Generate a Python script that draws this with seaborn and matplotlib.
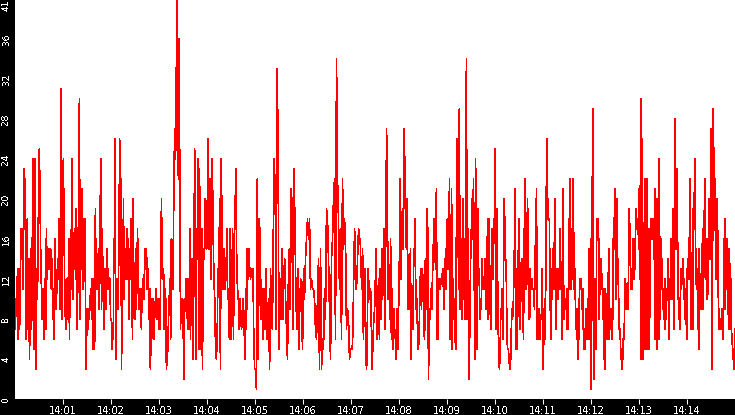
import pandas as pd
import matplotlib
matplotlib.use("Agg")
import matplotlib.pyplot as plt
import matplotlib.dates as mdates
import seaborn as sns

start = pd.Timestamp("2024-01-01 14:00:00")

# readings per minute, 14:00 .. 14:14
m00 = [7, 10, 9, 13, 6, 13, 7, 12, 17, 14, 17, 11, 23, 17, 22, 6, 14, 18, 7, 14, 4, 9, 15, 7, 16, 24, 5, 15, 24, 3,
       13, 10, 13, 22, 25, 20, 14, 11, 8, 11, 8, 6, 12, 7, 17, 12, 15, 13, 15, 13, 15, 11, 14, 8, 11, 6, 16, 13, 9, 12,
       14, 12, 18, 9, 20, 31, 8, 20]
m01 = [24, 16, 10, 7, 12, 10, 8, 16, 6, 15, 11, 24, 18, 10, 16, 17, 12, 19, 7, 12, 20, 30, 8, 21, 13, 21, 11, 14, 18, 10,
       3, 9, 7, 9, 8, 10, 11, 8, 12, 5, 12, 5, 19, 11, 14, 11, 15, 9, 16, 24, 9, 17, 12, 7, 11, 13, 9, 15, 11, 13,
       11, 12, 8]
m02 = [8, 5, 7, 6, 16, 15, 26, 4, 10, 12, 9, 11, 16, 26, 20, 22, 3, 13, 10, 20, 10, 13, 15, 12, 17, 12, 16, 13, 8, 15,
       12, 18, 14, 6, 20, 13, 8, 8, 15, 9, 13, 17, 11, 9, 11, 11, 9, 7, 11, 10, 12, 10, 14, 15, 13, 15, 11, 13, 12, 8,
       11, 3, 6, 6, 10, 7, 10, 6, 9, 10, 11, 8, 9, 10, 7]
m03 = [10, 7, 13, 20, 13, 12, 13, 7, 11, 10, 3, 4, 5, 8, 10, 12, 6, 16, 13, 11, 17, 24, 27, 24, 32, 41, 26, 22, 36, 22,
       7, 10, 8, 10, 6, 2, 10, 10, 12, 10, 7, 12, 7, 17, 6, 10, 14, 12, 4, 15, 25, 13, 4, 17, 14, 24, 5, 23, 5, 14,
       17, 3, 11, 15, 14, 20, 16, 15]
m04 = [20, 26, 15, 22, 12, 17, 24, 17, 12, 10, 5, 4, 6, 13, 11, 20, 3, 24, 17, 11, 15, 13, 11, 13, 17, 10, 11, 6, 17, 6,
       11, 17, 6, 15, 19, 23, 14, 11, 10, 7, 10, 8, 7, 9, 10, 8, 4, 11, 7, 15, 12, 15, 13, 12, 13, 13, 13, 6, 3]
m05 = [3, 1, 22, 4, 18, 16, 8, 11, 6, 11, 7, 13, 6, 9, 10, 3, 13, 8, 7, 17, 24, 20, 7, 33, 26, 5, 12, 8, 15, 8,
       12, 14, 10, 7, 4, 12, 15, 9, 21, 19, 7, 23, 17, 10, 7, 13, 5, 9, 12, 9, 5]
m06 = [13, 10, 14, 16, 18, 16, 18, 11, 12, 11, 11, 10, 7, 6, 10, 14, 3, 15, 3, 6, 5, 11, 8, 19, 18, 14, 9, 4, 14, 16,
       20, 22, 6, 34, 22, 18, 11, 17, 6, 22, 15, 18, 16, 7, 9, 8, 4, 5]
m07 = [5, 5, 7, 13, 17, 14, 11, 12, 15, 17, 16, 16, 13, 11, 15, 6, 10, 13, 4, 3, 8, 13, 11, 10, 11, 7, 3, 6, 8, 9,
       12, 15, 6, 10, 12, 6, 13, 8, 15, 10, 15, 17, 7, 17, 27, 19, 10, 12, 8, 16, 6, 11, 5, 9, 7, 6, 4, 9, 5, 9]
m08 = [14, 22, 12, 18, 19, 15, 27, 23, 16, 15, 20, 9, 12, 9, 15, 4, 9, 7, 13, 15, 18, 9, 10, 7, 5, 6, 11, 13, 9, 13,
       12, 7, 6, 14, 9, 19, 17, 2, 9, 8, 11, 9, 12, 15, 18, 15, 13, 21, 6, 6, 12, 12, 11, 12, 12, 13, 11, 9, 14, 11, 17]
m09 = [18, 13, 15, 22, 6, 14, 21, 5, 12, 8, 10, 6, 5, 20, 26, 19, 11, 29, 9, 12, 16, 8, 20, 10, 16, 8, 21, 34, 8, 17,
       6, 2, 9, 14, 17, 20, 16, 22, 13, 4, 24, 15, 5, 19, 12, 13, 8, 10, 9, 14, 11, 12, 11, 14, 12, 9, 13, 18, 8, 18,
       13, 8, 7, 17, 15, 12, 18, 18]
m10 = [25, 7, 19, 14, 8, 4, 3, 5, 9, 8, 11, 6, 13, 20, 17, 14, 12, 6, 5, 5, 4, 3, 3, 6, 9, 8, 9, 12, 16, 21,
       5, 13, 5, 11, 18, 9, 7, 10, 14, 14, 10, 6, 15, 22, 16, 11, 16, 20, 12, 8, 8, 13, 11, 12, 11, 11, 11, 9, 15, 16,
       21, 6, 6, 9, 9, 6, 8, 8, 13, 5]
m11 = [3, 8, 10, 6, 16, 26, 22, 18, 18, 18, 12, 6, 8, 12, 14, 15, 11, 20, 18, 7, 12, 13, 10, 11, 13, 17, 11, 13, 6, 21,
       14, 8, 9, 10, 9, 11, 7, 7, 11, 18, 22, 11, 17, 12, 18, 22, 11, 13, 10, 7, 9, 6, 4, 6, 10, 12, 11, 12, 9, 11,
       7, 5, 5, 7, 9, 8, 6, 10, 6, 15, 8, 16]
m12 = [1, 15, 29, 16, 2, 8, 12, 5, 16, 18, 18, 16, 8, 13, 11, 14, 11, 11, 8, 5, 3, 11, 10, 9, 6, 10, 15, 6, 9, 7,
       9, 6, 8, 16, 15, 21, 15, 10, 20, 15, 13, 10, 7, 7, 5, 4, 3, 4, 6, 6, 9, 12, 11, 9, 9, 9, 14, 19, 16, 11,
       13, 11, 13, 16, 12, 13, 16, 19, 18, 17, 18, 15]
m13 = [21, 12, 30, 4, 26, 4, 15, 13, 22, 5, 13, 22, 5, 13, 17, 5, 11, 18, 16, 17, 16, 18, 14, 21, 6, 12, 5, 20, 12, 6,
       24, 8, 16, 11, 14, 11, 9, 9, 7, 12, 8, 11, 10, 14, 6, 12, 10, 13, 16, 10, 13, 19, 7, 28, 18, 15, 23, 19, 12, 8,
       10, 7, 13, 11, 12, 13, 14, 10, 11, 8, 9, 6]
m14 = [13, 14, 12, 16, 22, 15, 7, 11, 7, 19, 17, 24, 18, 12, 11, 13, 9, 5, 15, 10, 9, 11, 14, 17, 9, 16, 22, 16, 12, 16,
       10, 11, 16, 20, 14, 18, 27, 3, 16, 29, 21, 22, 17, 12, 17, 20, 13, 7, 9, 7, 8, 7, 9, 6, 8, 14, 18, 9, 13, 16,
       11, 10, 7, 15, 12, 12, 7, 6, 5, 4, 3, 7]

minutes = [m00, m01, m02, m03, m04, m05, m06, m07, m08, m09, m10, m11, m12, m13, m14]
y_ticks = [0, 4, 8, 12, 16, 20, 24, 28, 32, 36]

# spread each minute's readings evenly over that minute
rows = []
for k, vals in enumerate(minutes):
    n = len(vals)
    for i, v in enumerate(vals):
        t = start + pd.Timedelta(minutes=k) + pd.Timedelta(seconds=60 * (i + 0.5) / n)
        rows.append((t, v))
df = pd.DataFrame(rows, columns=["time", "value"])

sns.set_theme(style="white")
plt.rcParams["text.antialiased"] = False

fig = plt.figure(figsize=(7.35, 4.15), dpi=100, facecolor="black")
ax = fig.add_axes([15 / 735, 16 / 415, 720 / 735, 399 / 415])
ax.set_facecolor("white")

sns.lineplot(data=df, x="time", y="value", color="red", linewidth=0.5,
             antialiased=False, estimator=None, ax=ax)

ax.set_xlim(start, start + pd.Timedelta(minutes=15))
ax.set_ylim(0, 39.9)
for s in ax.spines.values():
    s.set_visible(False)
ax.set_xlabel("")
ax.set_ylabel("")

ax.set_xticks([start + pd.Timedelta(minutes=k) for k in range(1, 15)])
ax.xaxis.set_major_formatter(mdates.DateFormatter("%H:%M"))
ax.tick_params(axis="x", colors="white", length=3.6, width=0.72, pad=1.5, labelsize=7, bottom=True)

ax.set_yticks(y_ticks)
ax.set_yticklabels([str(v) for v in y_ticks], rotation=90, va="center")
ax.tick_params(axis="y", colors="white", length=0, pad=3.0, labelsize=6.5, left=True)

# max value shown at the top of the axis
fig.text(6 / 735, 1.0, str(df["value"].max()), color="white", fontsize=6.5,
         rotation=90, ha="center", va="top")

fig.savefig("out.png", dpi=100, facecolor="black")
